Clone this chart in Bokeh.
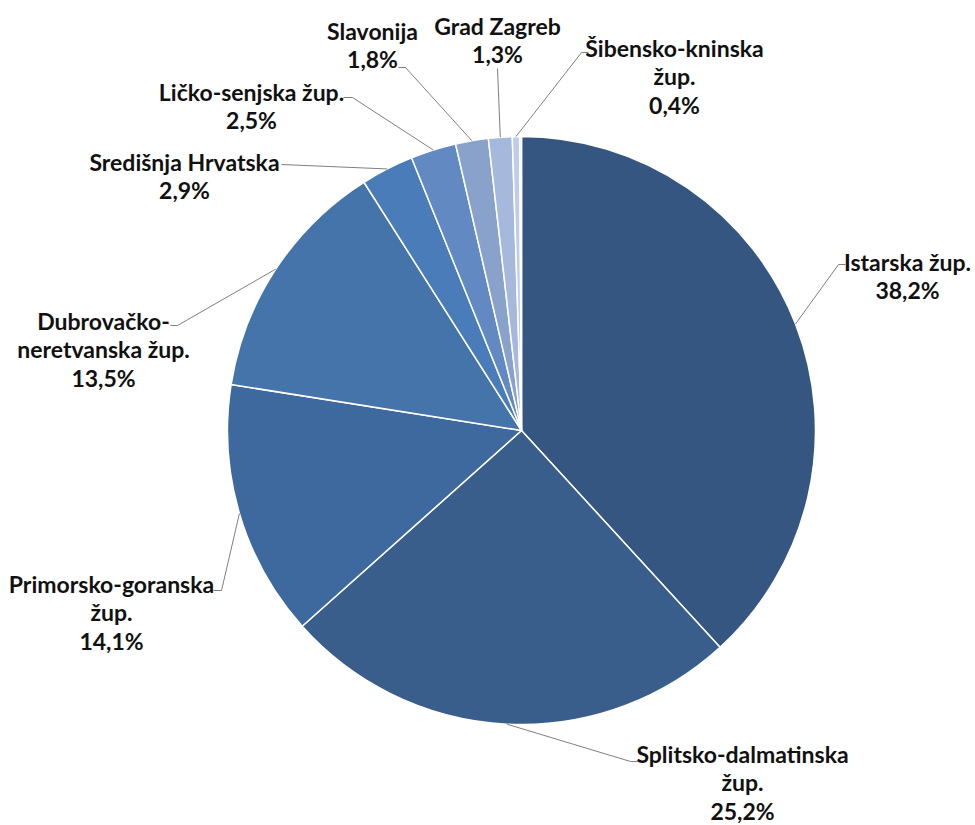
import math
from bokeh.plotting import figure
from bokeh.models import Range1d, ColumnDataSource
from bokeh.core.properties import value
from bokeh.embed import file_html
from bokeh.resources import INLINE

# ---- data ----
regions = ["Istarska žup.", "Splitsko-dalmatinska\nžup.", "Primorsko-goranska\nžup.",
           "Dubrovačko-\nneretvanska žup.", "Središnja Hrvatska", "Ličko-senjska žup.",
           "Slavonija", "Grad Zagreb", "Šibensko-kninska\nžup.", ""]
shares = [38.2, 25.2, 14.1, 13.5, 2.9, 2.5, 1.8, 1.3, 0.4, 0.1]

# ---- styles / layout ----
colors = ["#345680", "#3a5e8c", "#3e699e", "#4574ab", "#4a7cba", "#6389c2",
          "#88a2cc", "#a6b9dc", "#bfcde7", "#d3ddef"]
# label centre x, first-line y (picture pixels)
label_x = [907, 742, 111, 103, 184, 251, 372, 497, 674, None]
label_y = [261, 753, 583, 320, 161, 91, 30, 25, 47, None]
# leader points from the label side towards the pie (picture pixels)
leaders = [[(845, 264), (838, 264)], [(637, 761), (630, 761)], [(213, 590), (221, 590)],
           [(170, 325), (177, 325)], [(281, 164)], [(343, 97), (352, 97)],
           [(398, 67), (405, 67)], [(497, 68)], [(588, 52), (581, 52)], None]
LINE_H = 28.5
CX, CY, R = 521, 430, 294
PAGE_W, PAGE_H = 975, 825

def Y(py):
    return PAGE_H - py

p = figure(width=PAGE_W, height=PAGE_H, output_backend="svg", toolbar_location=None,
           x_range=Range1d(0, PAGE_W), y_range=Range1d(0, PAGE_H), min_border=0)
p.axis.visible = False
p.grid.visible = False
p.outline_line_color = None
p.background_fill_color = "white"
p.border_fill_color = "white"

total = sum(shares)
starts, ends, mids = [], [], []
cum = 0.0
for v in shares:
    f0 = cum / total
    cum += v
    f1 = cum / total
    starts.append(math.pi / 2 - 2 * math.pi * f1)
    ends.append(math.pi / 2 - 2 * math.pi * f0)
    mids.append((f0 + f1) / 2)

src = ColumnDataSource(dict(start=starts, end=ends, color=colors))
p.wedge(x=CX, y=Y(CY), radius=R, radius_units="screen", start_angle="start",
        end_angle="end", fill_color="color", line_color="white", line_width=1.5,
        source=src)

# leader lines
for i, pts in enumerate(leaders):
    if not pts:
        continue
    fm = mids[i]
    ex = CX + R * math.sin(2 * math.pi * fm)
    ey = CY - R * math.cos(2 * math.pi * fm)
    xs = [q[0] for q in pts] + [ex]
    ys = [Y(q[1]) for q in pts] + [Y(ey)]
    p.line(xs, ys, line_color="#7f7f7f", line_width=1)

# labels
tx, ty, tt = [], [], []
for i, name in enumerate(regions):
    if label_x[i] is None:
        continue
    pct = f"{shares[i]:.1f}".replace(".", ",") + "%"
    lines = name.split("\n") + [pct]
    for k, ln in enumerate(lines):
        tx.append(label_x[i])
        ty.append(Y(label_y[i] + k * LINE_H))
        tt.append(ln)
p.text(x=tx, y=ty, text=tt, text_font=value("Lato"), text_font_style="bold",
       text_font_size="23px", text_align="center", text_baseline="middle",
       text_color="#111111")

open("out.html", "w").write(file_html(p, INLINE))
